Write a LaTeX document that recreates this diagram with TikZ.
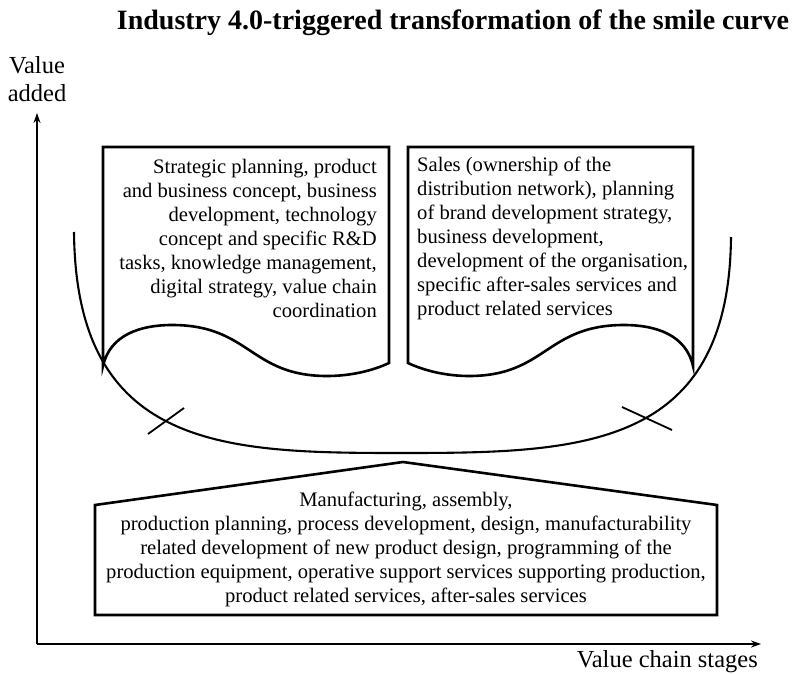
\documentclass[tikz,border=0pt]{standalone}
\usepackage{fontspec}
\setmainfont{Liberation Serif}
\usetikzlibrary{arrows.meta}

\begin{document}
\begin{tikzpicture}[x=1pt, y=-1pt,
    txt/.style = {inner sep=0pt, font=\fontsize{20.6}{24}\selectfont},
    lbl/.style = {inner sep=0pt, font=\fontsize{24.5}{28}\selectfont},
    axis/.style = {line width=1.2pt, -{Stealth[length=10pt, width=7pt]}},
    panel/.style = {draw, line width=2.6pt, line join=miter},
    smile/.style = {draw, line width=2.1pt},
    tick/.style = {draw, line width=1.8pt}]
            \useasboundingbox (0,0) rectangle (798,674);
            \node[inner sep=0pt, font=\bfseries\fontsize{28}{32}\selectfont] (title) at (453,23) {Industry 4.0-triggered transformation of the smile curve};
            \node[lbl, align=center] (vadd) at (37,79) {Value\\added};
            \node[lbl, anchor=east] (vcs) at (758,662) {Value chain stages};
            % axes
            \coordinate (O) at (37,644);
            \coordinate (ytop) at (37,113);
            \coordinate (xend) at (761,644);
            \draw[axis] (O) -- (ytop);
            \draw[axis] (O) -- (xend);
            % upper panels
            \draw[panel] (103,366) -- (103,147) -- (389,147) -- (389,363)
                .. controls (372,371) and (350,376) .. (327,376)
                .. controls (250,376) and (250,325) .. (172,325)
                .. controls (140,325) and (110,335) .. (103,366) -- cycle;
            \draw[panel] (693,366) -- (693,147) -- (408,147) -- (408,363)
                .. controls (425,371) and (447,376) .. (469,376)
                .. controls (546,376) and (546,325) .. (624,325)
                .. controls (656,325) and (686,335) .. (693,366) -- cycle;
            \node[txt, align=right, anchor=east] (rnd) at (377,238) {Strategic planning, product\\and business concept, business\\development, technology\\concept and specific R\&D\\tasks, knowledge management,\\digital strategy, value chain\\coordination};
            \node[txt, align=left, anchor=west] (sales) at (417,238) {Sales (ownership of the\\distribution network), planning\\of brand development strategy,\\business development,\\development of the organisation,\\specific after-sales services and\\product related services};
            % smile curve
            \coordinate (sl) at (74,232);
            \coordinate (sb) at (401,453);
            \coordinate (sr) at (731,237);
            \draw[smile] (sl) .. controls (76,450) and (225,453) .. (sb)
                .. controls (580,453) and (729,450) .. (sr);
            \draw[tick] (148,434) -- (184,408);
            \draw[tick] (622,407) -- (672,430);
            % lower panel
            \draw[panel] (95,615) -- (95,505) -- (403,462) -- (717,505) -- (717,615) -- cycle;
            \node[txt, align=center] (mfg) at (406,549) {Manufacturing, assembly,\\production planning, process development, design, manufacturability\\related development of new product design, programming of the\\production equipment, operative support services supporting production,\\product related services, after-sales services};
        \end{tikzpicture}
\end{document}
